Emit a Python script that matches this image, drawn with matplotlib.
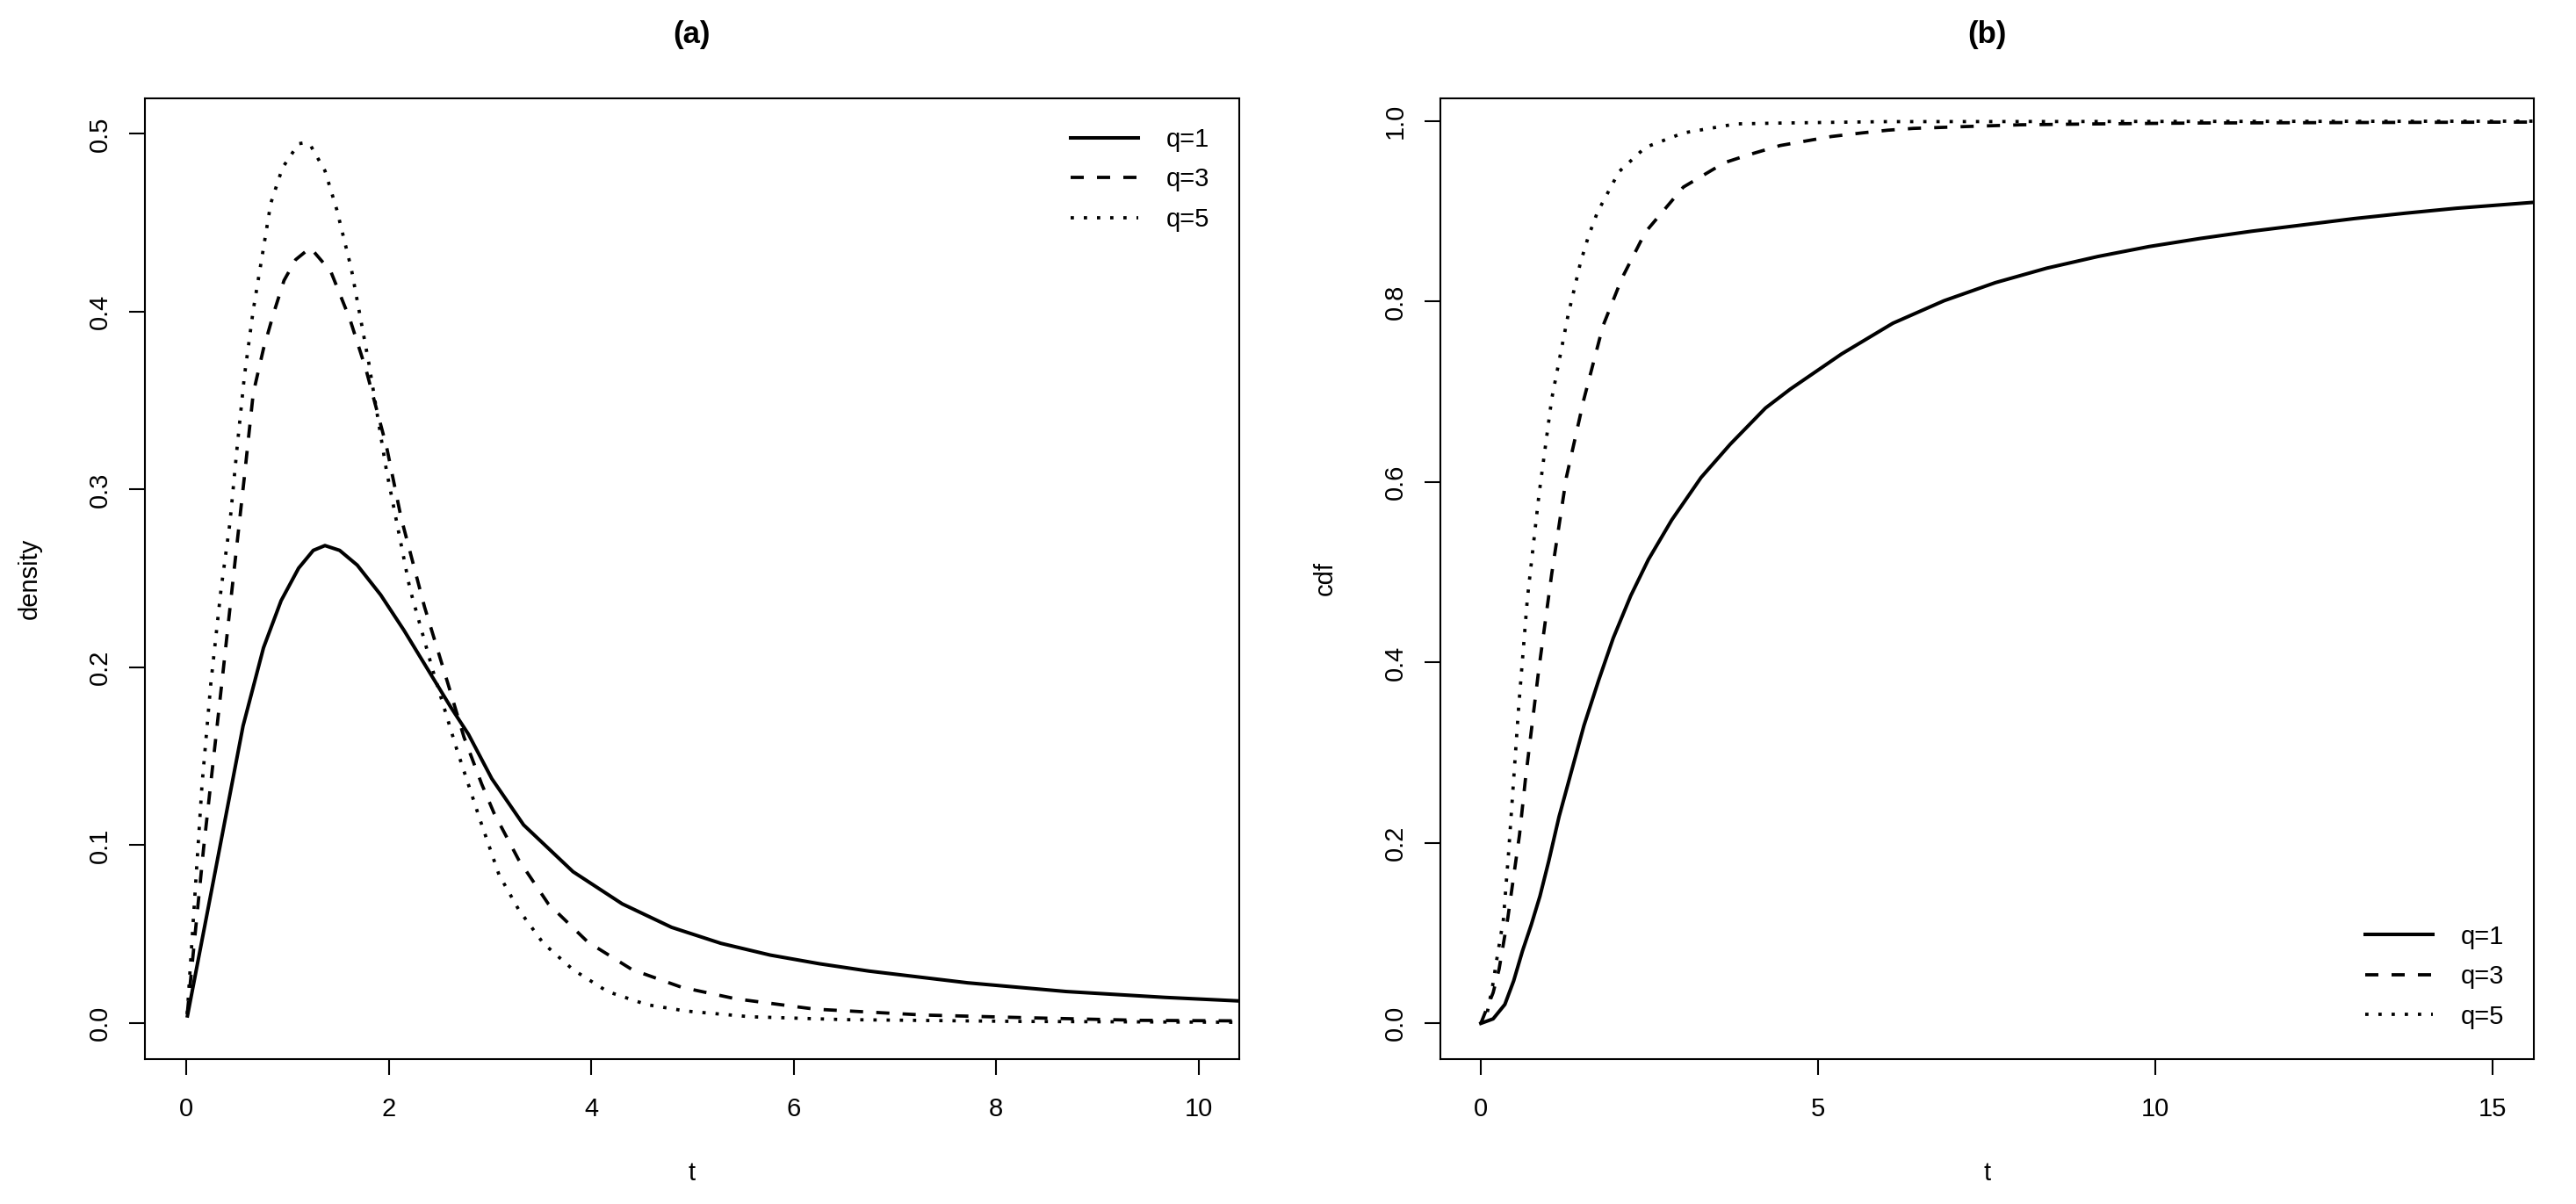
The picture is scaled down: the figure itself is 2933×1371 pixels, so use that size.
import matplotlib
matplotlib.use("Agg")
import matplotlib.pyplot as plt

plt.rcParams['font.family'] = ['Liberation Sans', 'DejaVu Sans']

# (a) densidad, valores
t_dens_q1 = [0.012, 0.272, 0.561, 0.763, 0.937, 1.110, 1.255, 1.370, 1.515, 1.689,
             1.920, 2.151, 2.383, 2.614, 2.787, 3.018, 3.332, 3.820, 4.306, 4.794,
             5.281, 5.768, 6.256, 6.743, 7.717, 8.692, 9.666, 10.40]
dens_q1 = [0.004, 0.081, 0.167, 0.211, 0.2375, 0.2558, 0.2658, 0.2685, 0.2658, 0.2575,
           0.2408, 0.2208, 0.1991, 0.1775, 0.1624, 0.1374, 0.1114, 0.0851, 0.0670, 0.0538,
           0.0448, 0.0382, 0.0333, 0.0292, 0.0226, 0.0177, 0.0144, 0.0124]

t_dens_q3 = [0.010, 0.171, 0.272, 0.359, 0.460, 0.575, 0.662, 0.763, 0.864, 0.966,
             1.081, 1.226, 1.428, 1.616, 1.775, 1.978, 2.122, 2.353, 2.585, 2.743,
             2.918, 3.040, 3.284, 3.576, 3.965, 4.404, 4.892, 5.428, 6.207, 7.278,
             8.350, 9.420, 10.40]
dens_q3 = [0.005, 0.098, 0.150, 0.195, 0.248, 0.3075, 0.3542, 0.3792, 0.3993, 0.4176,
           0.4293, 0.436, 0.4226, 0.3959, 0.3676, 0.3242, 0.2842, 0.2341, 0.1908, 0.1608,
           0.1344, 0.118, 0.0917, 0.067, 0.0456, 0.030, 0.0201, 0.0136, 0.0078, 0.0045,
           0.0029, 0.0015, 0.0012]

t_dens_q5 = [0.010, 0.156, 0.243, 0.344, 0.431, 0.503, 0.575, 0.662, 0.749, 0.835,
             0.951, 1.110, 1.168, 1.226, 1.370, 1.486, 1.630, 1.804, 1.977, 2.209,
             2.440, 2.671, 2.903, 3.089, 3.284, 3.527, 3.820, 4.160, 4.550, 4.940,
             5.573, 6.500, 8.200, 10.40]
dens_q5 = [0.005, 0.134, 0.191, 0.244, 0.281, 0.324, 0.364, 0.401, 0.431, 0.461,
           0.481, 0.4945, 0.495, 0.4937, 0.4793, 0.4576, 0.4243, 0.3709, 0.3109, 0.2442,
           0.1974, 0.1541, 0.1141, 0.0834, 0.0637, 0.0448, 0.030, 0.0177, 0.0103, 0.0067,
           0.0035, 0.0019, 0.0009, 0.0004]

# (b) funcion de distribucion
t_cdf_q1 = [0.0, 0.182, 0.356, 0.486, 0.616, 0.746, 0.876, 1.007, 1.159, 1.528,
            1.745, 1.962, 2.222, 2.483, 2.830, 3.264, 3.698, 4.219, 4.587, 5.348,
            6.107, 6.867, 7.626, 8.385, 9.146, 9.905, 10.665, 11.425, 12.185, 12.944,
            13.704, 14.464, 15.60]
cdf_q1 = [0.0, 0.005, 0.021, 0.047, 0.080, 0.109, 0.141, 0.180, 0.229, 0.330,
          0.380, 0.427, 0.474, 0.514, 0.558, 0.605, 0.642, 0.682, 0.703, 0.742,
          0.776, 0.801, 0.821, 0.837, 0.850, 0.861, 0.870, 0.878, 0.885, 0.892,
          0.898, 0.9035, 0.910]

t_cdf_q3 = [0.0, 0.182, 0.270, 0.400, 0.573, 0.660, 0.855, 1.050, 1.267, 1.528,
            1.810, 2.092, 2.439, 3.003, 3.611, 3.980, 4.436, 4.815, 5.195, 5.651,
            6.031, 6.411, 7.170, 8.006, 9.146, 10.665, 12.94, 15.60]
cdf_q3 = [0.0, 0.034, 0.060, 0.117, 0.209, 0.270, 0.390, 0.498, 0.605, 0.692,
          0.773, 0.826, 0.877, 0.927, 0.954, 0.963, 0.973, 0.978, 0.983, 0.987,
          0.990, 0.992, 0.994, 0.996, 0.997, 0.998, 0.9985, 0.999]

t_cdf_q5 = [0.0, 0.095, 0.173, 0.234, 0.334, 0.412, 0.560, 0.690, 0.860, 1.050,
            1.293, 1.385, 1.476, 1.593, 1.728, 2.048, 2.439, 3.003, 3.785, 4.500,
            6.000, 15.60]
cdf_q5 = [0.0, 0.012, 0.041, 0.070, 0.115, 0.190, 0.350, 0.471, 0.585, 0.692,
          0.785, 0.814, 0.843, 0.872, 0.899, 0.944, 0.971, 0.987, 0.997, 0.998,
          0.9995, 1.0]

labels = ["q=1", "q=3", "q=5"]

W, H = 2933, 1371
fig = plt.figure(figsize=(W / 100, H / 100), dpi=100)

def frac(x0, x1, y0, y1):
    return [x0 / W, 1 - y1 / H, (x1 - x0) / W, (y1 - y0) / H]

ax1 = fig.add_axes(frac(165, 1411, 112, 1206))
ax2 = fig.add_axes(frac(1640, 2885, 112, 1206))

estilos = [dict(color='black', lw=2.9, linestyle='-'),
           dict(color='black', lw=2.7, linestyle=(0, (4, 4))),
           dict(color='black', lw=2.7, linestyle=(0, (1, 3)))]

# Panel (a)
ax1.plot(t_dens_q1, dens_q1, label=labels[0], **estilos[0])
ax1.plot(t_dens_q3, dens_q3, label=labels[1], **estilos[1])
ax1.plot(t_dens_q5, dens_q5, label=labels[2], **estilos[2])
ax1.set_xlim(-0.408, 10.4)
ax1.set_ylim(-0.0203, 0.520)
ax1.set_xticks([0, 2, 4, 6, 8, 10])
ax1.set_yticks([0.0, 0.1, 0.2, 0.3, 0.4, 0.5])
ax1.set_yticklabels(["0.0", "0.1", "0.2", "0.3", "0.4", "0.5"])

# Panel (b)
ax2.plot(t_cdf_q1, cdf_q1, label=labels[0], **estilos[0])
ax2.plot(t_cdf_q3, cdf_q3, label=labels[1], **estilos[1])
ax2.plot(t_cdf_q5, cdf_q5, label=labels[2], **estilos[2])
ax2.set_xlim(-0.6, 15.61)
ax2.set_ylim(-0.0396, 1.0253)
ax2.set_xticks([0, 5, 10, 15])
ax2.set_yticks([0.0, 0.2, 0.4, 0.6, 0.8, 1.0])
ax2.set_yticklabels(["0.0", "0.2", "0.4", "0.6", "0.8", "1.0"])

for ax, titulo, ylab in [(ax1, "(a)", "density"), (ax2, "(b)", "cdf")]:
    for s in ax.spines.values():
        s.set_linewidth(1.5)
    ax.tick_params(axis='both', direction='out', length=13, width=1.5, labelsize=21)
    ax.tick_params(axis='x', pad=18)
    ax.tick_params(axis='y', pad=14, labelrotation=90)
    for lab in ax.get_yticklabels():
        lab.set_verticalalignment('center')
    ax.text(0.5, 1 + 72 / 1094, titulo, transform=ax.transAxes, ha='center',
            va='center', fontsize=25, fontweight='bold')
    ax.text(0.5, -130 / 1094, "t", transform=ax.transAxes, ha='center',
            va='center', fontsize=21)
    ax.text(-131 / 1246, 0.5, ylab, transform=ax.transAxes, ha='center',
            va='center', fontsize=21, rotation=90)

leg_kw = dict(frameon=False, fontsize=21, handlelength=2.64, handletextpad=1.1,
              labelspacing=0.6, borderpad=0, borderaxespad=0)
ax1.legend(loc='upper right', bbox_to_anchor=(0.9727, 0.970), **leg_kw)
ax2.legend(loc='lower right', bbox_to_anchor=(0.9727, 0.0314), **leg_kw)

fig.savefig("out.png", dpi=100)
